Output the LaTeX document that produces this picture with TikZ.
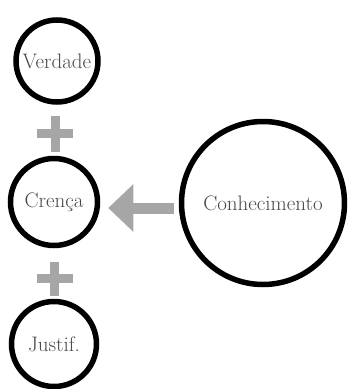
\documentclass[tikz,border=0pt]{standalone}
\usepackage{xcolor}
\usepackage{tikz}
\usetikzlibrary{arrows.meta}

\definecolor{plusgray}{HTML}{A6A6A6}
\definecolor{textgray}{HTML}{484848}

\begin{document}
\begin{tikzpicture}[x=1pt,y=-1pt]
\useasboundingbox (0,0) rectangle (349,389);

\begin{scope}[every node/.style={circle,draw=black,line width=5.5pt,inner sep=0pt,
              text=textgray,font=\fontsize{21}{24}\selectfont}]
    \node[minimum size=82pt] (V) at (57,61) {Verdade};
    \node[minimum size=87pt] (C) at (54,202) {Crença};
    \node[minimum size=85pt] (J) at (54,344) {Justif.};
    \node[minimum size=163pt] (K) at (263,203) {Conhecimento};
    \end{scope}

\begin{scope}[every path/.style={draw=plusgray,line width=9pt}]
    \coordinate (P1) at (55,133.5);
    \coordinate (P2) at (54.5,278.5);
    \path (P1) +(-18,0) -- +(18,0) (P1) +(0,-18) -- +(0,18);
    \path (P2) +(-18,0) -- +(18,0) (P2) +(0,-17) -- +(0,17);
    \end{scope}

\begin{scope}[>={Triangle[length=25pt,width=46pt]}]
    \draw [->,draw=plusgray,fill=plusgray,line width=11pt,shorten <=5pt,shorten >=8pt]
          ([yshift=-5pt]K.west) -- ([yshift=-5pt]K.west -| C.east);
    \end{scope}

\end{tikzpicture}
\end{document}
